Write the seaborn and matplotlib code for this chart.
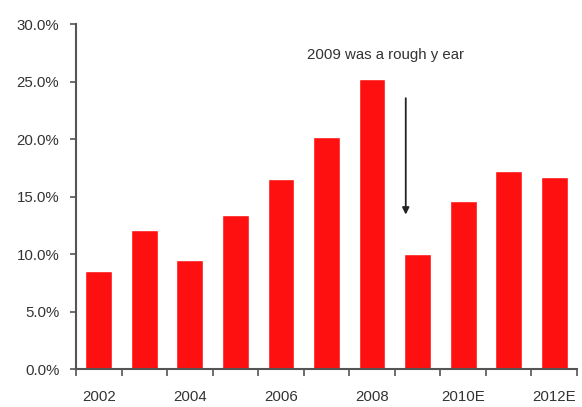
import matplotlib
matplotlib.use("Agg")
import matplotlib.pyplot as plt
import seaborn as sns
import pandas as pd
from matplotlib.ticker import PercentFormatter, FixedLocator

# Annual growth rate by year (E = estimate)
years = ["2002", "2003", "2004", "2005", "2006", "2007", "2008",
         "2009", "2010E", "2011E", "2012E"]
growth = [8.5, 12.1, 9.5, 13.4, 16.5, 20.2, 25.2, 10.0, 14.6, 17.2, 16.7]
shown_labels = ["2002", "", "2004", "", "2006", "", "2008", "", "2010E", "", "2012E"]
y_ticks = [0, 5, 10, 15, 20, 25, 30]

df = pd.DataFrame({"year": years, "growth": growth})

sns.set_theme(style="white")
plt.rcParams["font.family"] = ["Liberation Sans", "DejaVu Sans"]

fig = plt.figure(figsize=(5.82, 4.07), dpi=100)
ax = fig.add_axes([0.1306, 0.0926, 0.8608, 0.8484])

sns.barplot(data=df, x="year", y="growth", color="#ff1010", saturation=1,
            width=0.59, ax=ax)

ax.set_xlim(-0.5, len(years) - 0.5)
ax.set_ylim(0, 30)
ax.yaxis.set_major_locator(FixedLocator(y_ticks))
ax.yaxis.set_major_formatter(PercentFormatter(decimals=1))
ax.set_xticks(range(len(years)))
ax.set_xticklabels(shown_labels)
ax.set_xlabel("")
ax.set_ylabel("")

# tick marks sit on the category boundaries
ax.set_xticks([i - 0.5 for i in range(len(years) + 1)], minor=True)
ax.tick_params(axis="x", which="major", length=0, pad=15, labelsize=10.8,
               labelcolor="#333333")
ax.tick_params(axis="x", which="minor", length=5, width=1.2, color="#555555",
               bottom=True)
ax.tick_params(axis="y", length=4, width=1.2, color="#555555", left=True,
               labelsize=10.8, labelcolor="#333333", pad=8)

for side in ("top", "right"):
    ax.spines[side].set_visible(False)
for side in ("left", "bottom"):
    ax.spines[side].set_color("#555555")
    ax.spines[side].set_linewidth(1.5)

ax.text(6.3, 27.3, "2009 was a rough y ear", ha="center", va="center",
        fontsize=10.8, color="#333333")
ax.annotate("", xy=(6.74, 13.2), xytext=(6.74, 23.8),
            arrowprops=dict(arrowstyle="-|>", color="#222222", lw=1.3,
                            mutation_scale=10))

fig.savefig("out.png", dpi=100)
